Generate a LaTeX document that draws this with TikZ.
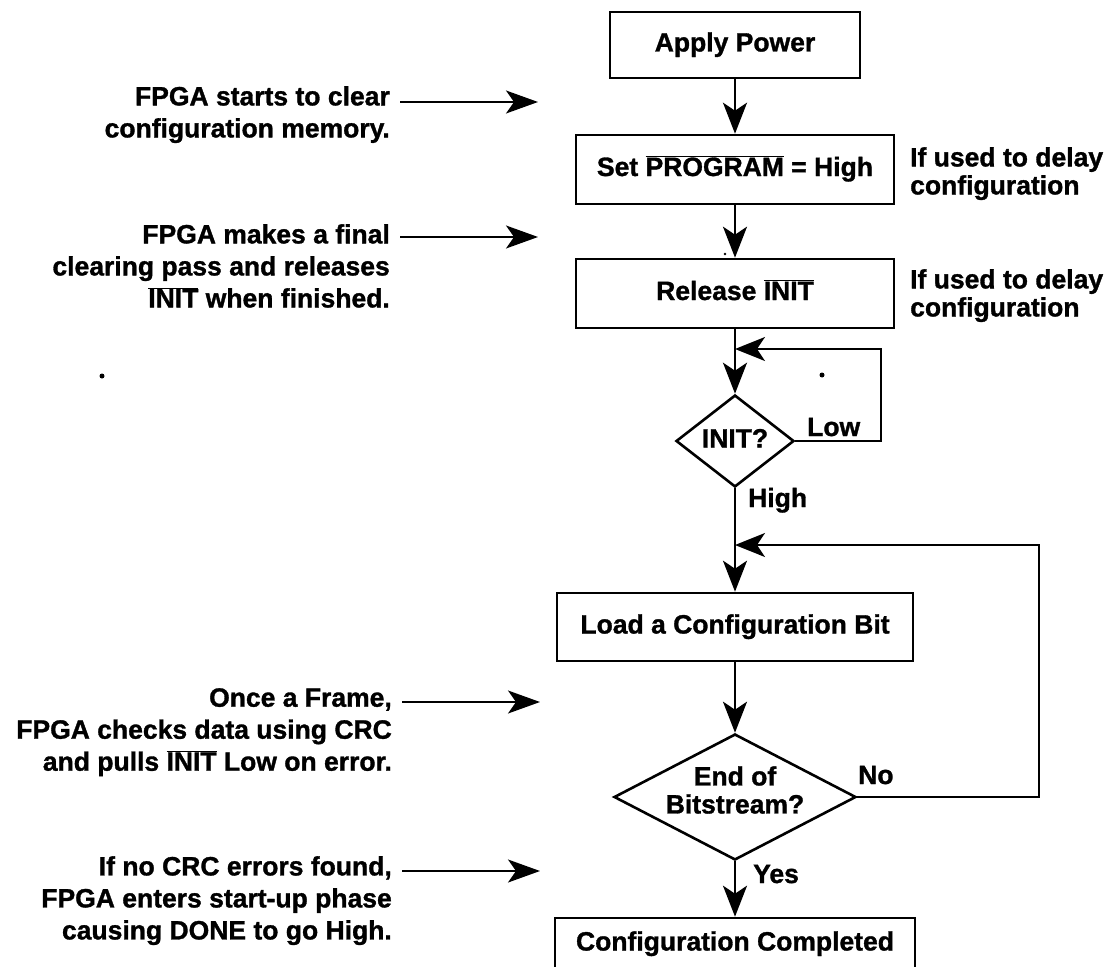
\documentclass[tikz,border=0pt]{standalone}
\usepackage{fontspec}
\setmainfont{Liberation Sans}[BoldFeatures={FakeBold=1.2}]
\usetikzlibrary{arrows.meta,shapes.geometric}
\newcommand{\ovl}[1]{\smash{$\overline{\hbox{#1}}$}}
\begin{document}
\begin{tikzpicture}[x=1pt,y=-1pt,
  every node/.style={font=\bfseries\fontsize{26.5}{32}\selectfont, inner sep=0pt},
  stepbox/.style={draw, rectangle, line width=2.6pt, text height=19pt, text depth=6pt},
  decision/.style={draw, diamond, line width=2.6pt, text height=19pt, text depth=6pt},
  flow/.style={line width=2.6pt, -{Stealth[length=31pt,width=24pt,inset=8pt]}},
  loopline/.style={line width=2.2pt, -{Stealth[length=30pt,width=24pt,inset=8pt]}},
  noteline/.style={line width=1.7pt, -{Stealth[length=32pt,width=23pt,inset=8pt]}},
  note/.style={align=right, anchor=north east},
  side/.style={align=left, anchor=north west, font=\bfseries\fontsize{26.5}{28}\selectfont},
  tag/.style={anchor=base west},
  speck/.style={fill=black}
]
\useasboundingbox (0,0) rectangle (1110,966);

% main flow
\node[stepbox, minimum width=250, minimum height=66] (power) at (735,45) {Apply Power};
\node[stepbox, minimum width=318, minimum height=69] (prog) at (735,169.5) {Set \ovl{PROGRAM} = High};
\node[stepbox, minimum width=318, minimum height=69] (rel) at (735,293.5) {Release \ovl{INIT}};
\node[decision, minimum width=118, minimum height=92] (initq) at (735,441) {INIT?};
\node[stepbox, minimum width=356, minimum height=68] (load) at (735,627) {Load a Configuration Bit};
\node[decision, minimum width=242, minimum height=126] (endq) at (735,797) {};
\node[align=center, font=\bfseries\fontsize{26.5}{28}\selectfont] (endtxt) at (735,790) {End of\\Bitstream?};
\node[stepbox, minimum width=360, minimum height=52] (done) at (735,944) {Configuration Completed};

\draw[flow] (power) -- (prog);
\draw[flow] (prog) -- (rel);
\draw[flow] (rel) -- (initq);
\draw[flow] (initq) -- (load);
\draw[flow] (load) -- (endq);
\draw[flow] (endq) -- (done);

% retry loops
\coordinate (lowc) at (881,349);
\coordinate (lowj) at (735,349);
\draw[loopline] (initq.east) -| (lowc) -- (lowj);
\coordinate (noc) at (1039,545);
\coordinate (noj) at (735,545);
\draw[loopline] (endq.east) -| (noc) -- (noj);

% branch labels
\node[tag] (low) at (807,436) {Low};
\node[tag] (high) at (748,507) {High};
\node[tag] (no) at (858,784) {No};
\node[tag] (yes) at (753,883) {Yes};

% side remarks
\node[side] (delay1) at (910,147) {If used to delay\\configuration};
\node[side] (delay2) at (910,269) {If used to delay\\configuration};

% notes on the left
\node[note] (note1) at (390,86) {FPGA starts to clear\\configuration memory.};
\node[note] (note2) at (390,224) {FPGA makes a final\\clearing pass and releases\\\ovl{INIT} when finished.};
\node[note] (note3) at (392,688) {Once a Frame,\\FPGA checks data using CRC\\and pulls \ovl{INIT} Low on error.};
\node[note] (note4) at (392,856) {If no CRC errors found,\\FPGA enters start-up phase\\causing DONE to go High.};

\coordinate (n1s) at (400,102);  \coordinate (n1e) at (538,102);
\coordinate (n2s) at (400,237);  \coordinate (n2e) at (538,237);
\coordinate (n3s) at (402,702);  \coordinate (n3e) at (540,702);
\coordinate (n4s) at (402,871);  \coordinate (n4e) at (540,871);
\draw[noteline] (n1s) -- (n1e);
\draw[noteline] (n2s) -- (n2e);
\draw[noteline] (n3s) -- (n3e);
\draw[noteline] (n4s) -- (n4e);

% stray specks
\fill[speck] (102,376) circle (2.5);
\fill[speck] (822,375) circle (2.5);
\fill[speck] (725,254) circle (1.3);
\end{tikzpicture}
\end{document}
